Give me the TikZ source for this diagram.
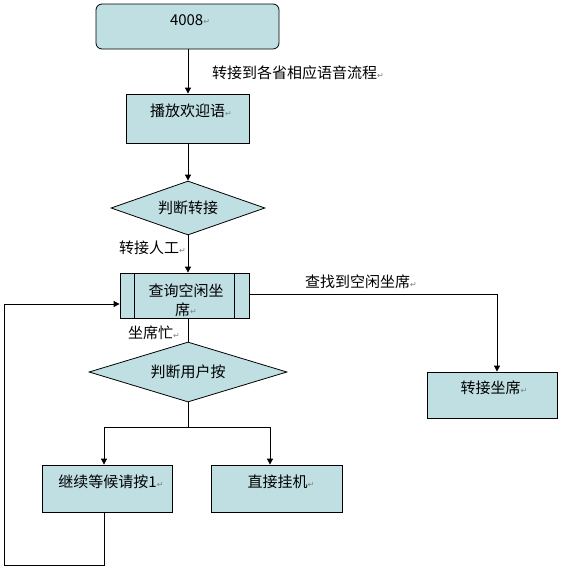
\documentclass[tikz,border=0pt]{standalone}
\usepackage{fontspec}
\setmainfont{Noto Sans CJK SC}
\newfontfamily\markfont{DejaVu Sans}
\usetikzlibrary{shapes.geometric,arrows.meta,calc}
\newcommand{\parmark}{{\markfont\fontsize{8}{8}\selectfont\color{gray}\raisebox{0.5pt}{↵}}}
\definecolor{boxfill}{RGB}{191,223,227}
\tikzset{
  flowbox/.style={draw=black, line width=0.8pt, fill=boxfill, inner sep=0pt},
  flowdia/.style={draw=black, line width=0.8pt, fill=boxfill, diamond, inner sep=0pt},
  txt/.style={inner sep=0pt, font=\fontsize{15}{19}\selectfont, align=center},
  lbl/.style={inner sep=0pt, font=\fontsize{15}{19}\selectfont, anchor=west},
  conn/.style={line width=0.8pt, draw=black},
  arr/.style={conn, -{Triangle[width=6pt,length=6pt]}},
}
\begin{document}
\begin{tikzpicture}[x=1pt,y=-1pt]
\useasboundingbox (0,0) rectangle (562,568);
% boxes
\node[flowbox, rounded corners=6pt, minimum width=183pt, minimum height=45pt] (n4008) at (187.5,26.5) {};
\node[txt] (t4008) at (190,20) {4008\parmark};
\node[flowbox, minimum width=123pt, minimum height=49pt] (play) at (187.5,118.5) {};
\node[txt] (tplay) at (191,111) {播放欢迎语\parmark};
\node[flowdia, minimum width=154pt, minimum height=54pt] (judge1) at (188,208) {};
\node[txt] (tjudge1) at (188,208) {判断转接};
\node[flowbox, minimum width=129pt, minimum height=45pt] (query) at (184.5,295.5) {};
\draw[conn] (query.north west) ++(15,0) -- ++(0,45);
\draw[conn] (query.north east) ++(-15,0) -- ++(0,45);
\node[txt] (tquery) at (186,300) {查询空闲坐\\席\parmark};
\node[flowdia, minimum width=198pt, minimum height=60pt] (judge2) at (188,372) {};
\node[txt] (tjudge2) at (188,372) {判断用户按};
\node[flowbox, minimum width=130pt, minimum height=46pt] (seat) at (492,395) {};
\node[txt] (tseat) at (494,388) {转接坐席\parmark};
\node[flowbox, minimum width=130pt, minimum height=47pt] (wait) at (107,488.5) {};
\node[txt] (twait) at (111,482) {继续等候请按1\parmark};
\node[flowbox, minimum width=131pt, minimum height=47pt] (hang) at (276.5,488.5) {};
\node[txt] (thang) at (281,482) {直接挂机\parmark};
% labels
\node[lbl] (l1) at (212,73) {转接到各省相应语音流程\parmark};
\node[lbl] (l2) at (119,248) {转接人工\parmark};
\node[lbl] (l3) at (305,282) {查找到空闲坐席\parmark};
\node[lbl] (l4) at (128,333) {坐席忙\parmark};
% connectors
\draw[arr] (n4008.south -| 188,0) -- (play.north -| 188,0);
\draw[arr] (play.south -| 188,0) -- (judge1.north);
\draw[arr] (judge1.south) -- (query.north -| 188,0);
\draw[conn] (query.south -| 188,0) -- (judge2.north);
\coordinate (split) at (188,427);
\draw[conn] (judge2.south) -- (split);
\draw[arr] (split) -| (wait.north -| 104,0);
\draw[arr] (split) -| (hang.north -| 270,0);
\draw[arr] (query.east |- 0,294) -| (seat.north -| 497,0);
\coordinate (loopA) at (104,565);
\coordinate (loopB) at (4,565);
\coordinate (loopC) at (4,304);
\draw[arr] (wait.south -| 104,0) -- (loopA) -- (loopB) -- (loopC) -- (query.west |- loopC);
\end{tikzpicture}
\end{document}
